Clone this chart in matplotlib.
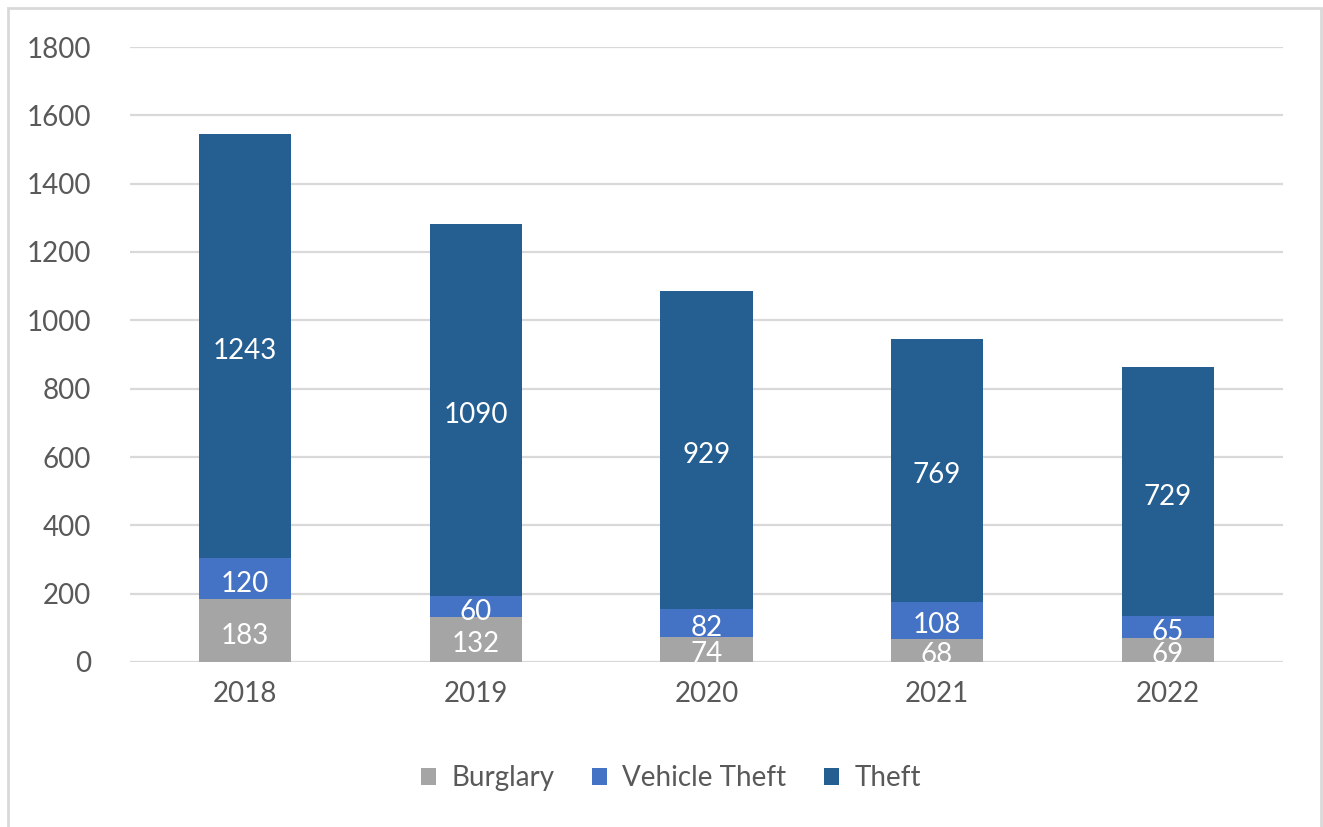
import matplotlib.pyplot as plt
from matplotlib.patches import Rectangle
import numpy as np

years = ["2018", "2019", "2020", "2021", "2022"]
burglary = [183, 132, 74, 68, 69]
vehicle_theft = [120, 60, 82, 108, 65]
theft = [1243, 1090, 929, 769, 729]

series = [
    ("Burglary", burglary, "#A5A5A5"),
    ("Vehicle Theft", vehicle_theft, "#4472C4"),
    ("Theft", theft, "#255E91"),
]

plt.rcParams['font.family'] = ['Lato', 'DejaVu Sans']
text_color = "#595959"
grid_color = "#D9D9D9"

fig = plt.figure(figsize=(13.23, 8.27), dpi=100)
ax = fig.add_axes([130 / 1323, 165 / 827, 1153 / 1323, 615 / 827])

x = np.arange(len(years))
bottom = np.zeros(len(years))
for name, vals, color in series:
    vals = np.array(vals)
    ax.bar(x, vals, width=0.4, bottom=bottom, color=color, label=name, zorder=3)
    for xi, b, v in zip(x, bottom, vals):
        # labels sit a touch below the segment centre, like Excel
        ax.annotate(str(v), (xi, b + v / 2), xytext=(0, -3.5), textcoords="offset points",
                    ha="center", va="center", color="white", fontsize=20, zorder=4)
    bottom += vals

ax.set_xlim(-0.5, len(years) - 0.5)
ax.set_ylim(0, 1800)
ax.set_yticks(range(0, 1801, 200))
ax.set_xticks(x)
ax.set_xticklabels(years)
ax.yaxis.grid(True, color=grid_color, linewidth=1.6, zorder=0)
ax.set_axisbelow(True)
for s in ax.spines.values():
    s.set_visible(False)
ax.tick_params(axis="both", length=0, labelsize=20, colors=text_color)
ax.tick_params(axis="x", pad=14)
ax.tick_params(axis="y", pad=28)

fig.legend(loc="center", bbox_to_anchor=(671 / 1323, 49 / 827), ncol=3, frameon=False,
           fontsize=20, labelcolor=text_color, handlelength=0.55, handleheight=0.55,
           handletextpad=0.55, columnspacing=1.35)

fig.patches.append(Rectangle((8 / 1323, -0.01), 1313 / 1323, 1 - 8 / 827 + 0.01,
                             transform=fig.transFigure, fill=False,
                             edgecolor=grid_color, linewidth=2))

fig.savefig("out.png", dpi=100)
